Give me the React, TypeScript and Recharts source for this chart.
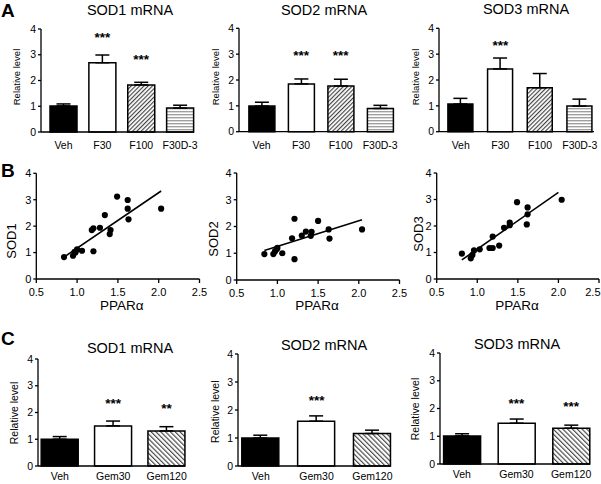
import React from 'react';
import { ComposedChart, Bar, Cell, ErrorBar, Line, XAxis, YAxis, ScatterChart, Scatter } from 'recharts';

// ---------- data ----------
const groupsA = ['Veh', 'F30', 'F100', 'F30D-3'];
const groupsC = ['Veh', 'Gem30', 'Gem120'];

const sod1AMean = [1.01, 2.69, 1.83, 0.93];
const sod1AErr = [0.08, 0.3, 0.1, 0.11];
const sod1AStar = ['', '***', '***', ''];
const sod1AStarAt = [null, 3.79, 2.95, null];

const sod2AMean = [0.99, 1.85, 1.77, 0.9];
const sod2AErr = [0.15, 0.19, 0.26, 0.12];
const sod2AStar = ['', '***', '***', ''];
const sod2AStarAt = [null, 3.1, 3.1, null];

const sod3AMean = [1.07, 2.43, 1.7, 0.99];
const sod3AErr = [0.22, 0.42, 0.55, 0.27];
const sod3AStar = ['', '***', '', ''];
const sod3AStarAt = [null, 3.46, null, null];

const sod1CMean = [1.0, 1.5, 1.31];
const sod1CErr = [0.1, 0.18, 0.16];
const sod1CStar = ['', '***', '**'];
const sod1CStarAt = [null, 2.47, 2.28];

const sod2CMean = [1.0, 1.6, 1.16];
const sod2CErr = [0.1, 0.19, 0.12];
const sod2CStar = ['', '***', ''];
const sod2CStarAt = [null, 2.45, null];

const sod3CMean = [1.01, 1.47, 1.29];
const sod3CErr = [0.08, 0.15, 0.11];
const sod3CStar = ['', '***', '***'];
const sod3CStarAt = [null, 2.3, 2.19];

const pparB1 = [0.84, 0.95, 0.97, 0.98, 1.0, 1.06, 1.18, 1.2, 1.2, 1.28, 1.34, 1.4, 1.41, 1.49, 1.62, 1.62, 1.63, 2.03];
const sod1B = [0.83, 0.88, 1.03, 1.0, 1.12, 1.07, 1.85, 1.92, 1.05, 1.94, 2.42, 1.7, 1.85, 3.12, 2.99, 2.66, 2.26, 2.66];
const fit1X = [0.84, 2.03];
const fit1Y = [0.83, 3.33];

const pparB2 = [0.84, 0.95, 0.97, 0.99, 1.0, 1.06, 1.21, 1.21, 1.18, 1.3, 1.35, 1.42, 1.41, 1.5, 1.63, 1.64, 2.04];
const sod2B = [0.97, 0.97, 1.07, 1.15, 1.2, 1.0, 2.29, 0.78, 1.56, 1.66, 1.81, 1.8, 1.65, 2.21, 1.89, 1.55, 1.89];
const fit2X = [0.84, 2.04];
const fit2Y = [1.1, 2.25];

const pparB3 = [0.81, 0.92, 0.94, 0.96, 1.03, 1.15, 1.19, 1.19, 1.27, 1.33, 1.4, 1.4, 1.49, 1.62, 1.62, 1.61, 2.04];
const sod3B = [0.96, 0.78, 0.91, 1.08, 1.12, 1.17, 1.17, 1.6, 1.26, 1.93, 2.13, 2.03, 2.9, 2.7, 2.44, 2.06, 2.99];
const fit3X = [0.81, 2.0];
const fit3Y = [0.72, 3.27];

const yTicks = [0, 1, 2, 3, 4];
const xTicksB = [0.5, 1.0, 1.5, 2.0, 2.5];

// ---------- styles ----------
const FONT = '"Liberation Sans", Arial, Helvetica, sans-serif';
const fillsA = ['#000000', '#ffffff', 'url(#hatchSlash)', 'url(#hatchHoriz)'];
const fillsC = ['#000000', '#ffffff', 'url(#hatchBack)'];

function buildBars(groups: string[], mean: number[], err: number[], star: string[], at: (number | null)[]) {
  return groups.map((g, i) => ({ name: g, v: mean[i], err: [0, err[i]], star: star[i], starY: at[i] }));
}
function buildPts(xs: number[], ys: number[]) {
  return xs.map((x, i) => ({ x, y: ys[i] }));
}

const renderStar = (props: any) => {
  const { cx, cy, payload, index } = props;
  if (!payload || !payload.star || cy == null || isNaN(cy)) return <g key={'s' + index} />;
  return (
    <text key={'s' + index} x={cx} y={cy + 8} textAnchor="middle" fontSize={13.5} fontWeight="bold" fill="#000" fontFamily={FONT}>
      {payload.star}
    </text>
  );
};

type Box = { left: number; top: number; w: number; h: number };
type Plot = { left: number; right: number; top: number; bottom: number };

function BarPanel(props: {
  region: Box; plot: Plot; padL: number; padR: number; data: any[]; fills: string[]; barSize: number; xTickMargin: number;
}) {
  const { region, plot, padL, padR, data, fills, barSize, xTickMargin } = props;
  const YW = 30;
  const XH = region.top + region.h - plot.bottom;
  const margin = {
    top: plot.top - region.top,
    bottom: 0,
    left: plot.left - region.left - YW,
    right: region.left + region.w - plot.right,
  };
  return (
    <div style={{ position: 'absolute', left: region.left, top: region.top, width: region.w, height: region.h }}>
      <ComposedChart width={region.w} height={region.h} data={data} margin={margin}>
        <XAxis
          dataKey="name"
          type="category"
          padding={{ left: padL, right: padR }}
          tickLine={false}
          tickSize={0}
          tickMargin={xTickMargin}
          height={XH}
          interval={0}
          axisLine={{ stroke: '#000', strokeWidth: 1.3 }}
          tick={{ fill: '#000', fontSize: 10.5, fontFamily: FONT }}
        />
        <YAxis
          type="number"
          domain={[0, 4]}
          ticks={yTicks}
          interval={0}
          width={YW}
          tickSize={3}
          tickMargin={2}
          axisLine={{ stroke: '#000', strokeWidth: 1.3 }}
          tickLine={{ stroke: '#000', strokeWidth: 1.3 }}
          tick={{ fill: '#000', fontSize: 10.5, fontFamily: FONT }}
        />
        <Bar dataKey="v" barSize={barSize} stroke="#000" strokeWidth={1.5} isAnimationActive={false}>
          {data.map((d, i) => (
            <Cell key={d.name} fill={fills[i]} />
          ))}
          <ErrorBar dataKey="err" direction="y" width={7} stroke="#000" strokeWidth={1.5} isAnimationActive={false} />
        </Bar>
        <Line dataKey="starY" stroke="none" dot={renderStar} activeDot={false} isAnimationActive={false} connectNulls={false} />
      </ComposedChart>
    </div>
  );
}

function ScatterPanel(props: { region: Box; plot: Plot; pts: any[]; fit: any[]; lastEnd?: boolean }) {
  const { region, plot, pts, fit, lastEnd } = props;
  const YW = 30;
  const XH = region.top + region.h - plot.bottom;
  const margin = {
    top: plot.top - region.top,
    bottom: 0,
    left: plot.left - region.left - YW,
    right: region.left + region.w - plot.right,
  };
  const renderXTick = (p: any) => {
    const isLast = lastEnd && p.index === xTicksB.length - 1;
    return (
      <text
        key={'xt' + p.index}
        x={isLast ? p.x + 1.5 : p.x}
        y={p.y}
        dy="0.71em"
        textAnchor={isLast ? 'end' : 'middle'}
        fontSize={11}
        fill="#000"
        fontFamily={FONT}
      >
        {Number(p.payload.value).toFixed(1)}
      </text>
    );
  };
  return (
    <div style={{ position: 'absolute', left: region.left, top: region.top, width: region.w, height: region.h }}>
      <ScatterChart width={region.w} height={region.h} margin={margin}>
        <XAxis
          type="number"
          dataKey="x"
          domain={[0.5, 2.5]}
          ticks={xTicksB}
          interval={0}
          allowDataOverflow
          tickSize={4}
          tickMargin={5}
          height={XH}
          axisLine={{ stroke: '#000', strokeWidth: 1.3 }}
          tickLine={{ stroke: '#000', strokeWidth: 1.3 }}
          tick={renderXTick}
        />
        <YAxis
          type="number"
          dataKey="y"
          domain={[0, 4]}
          ticks={yTicks}
          interval={0}
          allowDataOverflow
          width={YW}
          tickSize={3}
          tickMargin={2}
          axisLine={{ stroke: '#000', strokeWidth: 1.3 }}
          tickLine={{ stroke: '#000', strokeWidth: 1.3 }}
          tick={{ fill: '#000', fontSize: 11, fontFamily: FONT }}
        />
        <Scatter
          data={fit}
          line={{ stroke: '#000', strokeWidth: 1.6 }}
          shape={(p: any) => <g />}
          isAnimationActive={false}
        />
        <Scatter
          data={pts}
          shape={(p: any) => <circle cx={p.cx} cy={p.cy} r={3.1} fill="#000" />}
          isAnimationActive={false}
        />
      </ScatterChart>
    </div>
  );
}

function RotText({ x, y, size, children }: { x: number; y: number; size: number; children: React.ReactNode }) {
  return (
    <text
      x={x}
      y={y}
      fontSize={size}
      textAnchor="middle"
      dominantBaseline="central"
      transform={`rotate(-90 ${x} ${y})`}
      fill="#000"
      fontFamily={FONT}
    >
      {children}
    </text>
  );
}

export default function App() {
  const a1 = buildBars(groupsA, sod1AMean, sod1AErr, sod1AStar, sod1AStarAt);
  const a2 = buildBars(groupsA, sod2AMean, sod2AErr, sod2AStar, sod2AStarAt);
  const a3 = buildBars(groupsA, sod3AMean, sod3AErr, sod3AStar, sod3AStarAt);
  const c1 = buildBars(groupsC, sod1CMean, sod1CErr, sod1CStar, sod1CStarAt);
  const c2 = buildBars(groupsC, sod2CMean, sod2CErr, sod2CStar, sod2CStarAt);
  const c3 = buildBars(groupsC, sod3CMean, sod3CErr, sod3CStar, sod3CStarAt);

  return (
    <div style={{ position: 'absolute', left: 0, top: 0, width: 601, height: 484, background: '#fff', fontFamily: FONT, overflow: 'hidden' }}>
      <svg width={0} height={0} style={{ position: 'absolute' }}>
        <defs>
          <pattern id="hatchSlash" patternUnits="userSpaceOnUse" width={3} height={3} patternTransform="rotate(45)">
            <rect width={3} height={3} fill="#fff" />
            <line x1={0.6} y1={0} x2={0.6} y2={3} stroke="#3a3a3a" strokeWidth={1.1} />
          </pattern>
          <pattern id="hatchHoriz" patternUnits="userSpaceOnUse" width={4} height={3}>
            <rect width={4} height={3} fill="#fff" />
            <line x1={0} y1={0.7} x2={4} y2={0.7} stroke="#9a9a9a" strokeWidth={1.3} />
          </pattern>
          <pattern id="hatchBack" patternUnits="userSpaceOnUse" width={3.4} height={3.4} patternTransform="rotate(-45)">
            <rect width={3.4} height={3.4} fill="#fff" />
            <line x1={0.6} y1={0} x2={0.6} y2={3.4} stroke="#3a3a3a" strokeWidth={1.1} />
          </pattern>
        </defs>
      </svg>

      <BarPanel region={{ left: 0, top: 0, w: 200, h: 160 }} plot={{ left: 41, right: 194, top: 29, bottom: 132 }} padL={3} padR={-5.5} data={a1} fills={fillsA} barSize={27} xTickMargin={10} />
      <BarPanel region={{ left: 200, top: 0, w: 200, h: 160 }} plot={{ left: 239, right: 394, top: 28.3, bottom: 131.7 }} padL={2.9} padR={-5.9} data={a2} fills={fillsA} barSize={26} xTickMargin={10} />
      <BarPanel region={{ left: 400, top: 0, w: 201, h: 160 }} plot={{ left: 439, right: 594, top: 28.3, bottom: 131.7 }} padL={1.9} padR={-5.6} data={a3} fills={fillsA} barSize={25} xTickMargin={10} />

      <ScatterPanel region={{ left: 0, top: 160, w: 214, h: 160 }} plot={{ left: 36.3, right: 199.5, top: 173.3, bottom: 279 }} pts={buildPts(pparB1, sod1B)} fit={buildPts(fit1X, fit1Y)} />
      <ScatterPanel region={{ left: 200, top: 160, w: 214, h: 160 }} plot={{ left: 236.7, right: 399.5, top: 173, bottom: 280 }} pts={buildPts(pparB2, sod2B)} fit={buildPts(fit2X, fit2Y)} />
      <ScatterPanel region={{ left: 400, top: 160, w: 201, h: 160 }} plot={{ left: 436.7, right: 599, top: 173, bottom: 279 }} pts={buildPts(pparB3, sod3B)} fit={buildPts(fit3X, fit3Y)} lastEnd />

      <BarPanel region={{ left: 0, top: 320, w: 200, h: 164 }} plot={{ left: 38, right: 185, top: 359, bottom: 466 }} padL={-4.8} padR={-8.3} data={c1} fills={fillsC} barSize={37} xTickMargin={7} />
      <BarPanel region={{ left: 200, top: 320, w: 200, h: 164 }} plot={{ left: 238, right: 391, top: 354, bottom: 466 }} padL={-5.2} padR={-9.3} data={c2} fills={fillsC} barSize={37} xTickMargin={7} />
      <BarPanel region={{ left: 400, top: 320, w: 201, h: 164 }} plot={{ left: 440, right: 590, top: 353, bottom: 464 }} padL={-5.4} padR={-8.4} data={c3} fills={fillsC} barSize={37} xTickMargin={7} />

      <svg width={601} height={484} style={{ position: 'absolute', left: 0, top: 0, pointerEvents: 'none' }}>
        <g fontFamily={FONT} fill="#000">
          <text x={1} y={17} fontSize={19} fontWeight="bold">A</text>
          <text x={1} y={177} fontSize={19} fontWeight="bold">B</text>
          <text x={1} y={345} fontSize={19} fontWeight="bold">C</text>

          <text x={130} y={15} fontSize={14.5} textAnchor="middle">SOD1 mRNA</text>
          <text x={324} y={15} fontSize={14.5} textAnchor="middle">SOD2 mRNA</text>
          <text x={526} y={13.5} fontSize={14.5} textAnchor="middle">SOD3 mRNA</text>
          <text x={130} y={352.5} fontSize={14.5} textAnchor="middle">SOD1 mRNA</text>
          <text x={324} y={350.2} fontSize={14.5} textAnchor="middle">SOD2 mRNA</text>
          <text x={517} y={349.2} fontSize={14.5} textAnchor="middle">SOD3 mRNA</text>

          <text x={121.7} y={310} fontSize={13.5} textAnchor="middle">PPARα</text>
          <text x={317} y={310} fontSize={13.5} textAnchor="middle">PPARα</text>
          <text x={517} y={310} fontSize={13.5} textAnchor="middle">PPARα</text>
        </g>
        <RotText x={16} y={77} size={9.5}>Relative level</RotText>
        <RotText x={215} y={77} size={9.5}>Relative level</RotText>
        <RotText x={415} y={77} size={9.5}>Relative level</RotText>
        <RotText x={13.5} y={413} size={10.5}>Relative level</RotText>
        <RotText x={215} y={411.7} size={10.5}>Relative level</RotText>
        <RotText x={415} y={409} size={10.5}>Relative level</RotText>
        <RotText x={11} y={241} size={13}>SOD1</RotText>
        <RotText x={213} y={239} size={13}>SOD2</RotText>
        <RotText x={418} y={234} size={13}>SOD3</RotText>
      </svg>
    </div>
  );
}
